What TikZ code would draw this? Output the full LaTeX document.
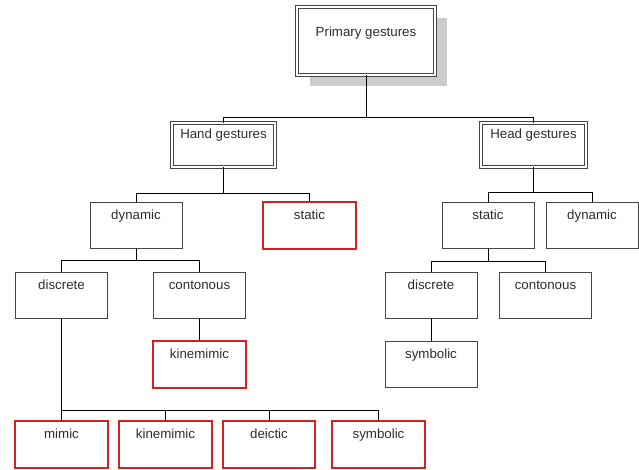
\documentclass[tikz,border=0pt]{standalone}
\usepackage{fontspec}
\setmainfont{Liberation Sans}
\definecolor{boxgray}{RGB}{70,70,70}
\definecolor{txtgray}{RGB}{45,45,45}
\definecolor{boxred}{RGB}{212,32,32}
\definecolor{shadowgray}{RGB}{204,204,204}
\tikzset{
  base/.style={rectangle, inner xsep=0pt, inner ysep=0pt, font=\fontsize{13.3}{16}\selectfont},
  plainbox/.style={base, draw=boxgray, line width=0.9pt, minimum width=92pt, minimum height=46pt, text height=17pt, text depth=29pt},
  redbox/.style={base, minimum width=92pt, minimum height=46pt, text height=17pt, text depth=29pt},
  redframe/.style={draw=boxred, line width=1.7pt},
  dblbox/.style={base, draw=boxgray, line width=0.9pt, double=white, double distance=1.6pt},
  conn/.style={draw=black, line width=0.8pt},
}
\begin{document}
\begin{tikzpicture}[x=1pt,y=-1pt,color=txtgray]
\useasboundingbox (0,0) rectangle (639,470);
% shadow of the root
\fill[shadowgray] (310,18) rectangle (447,86);
% root
\node[dblbox, fill=white, minimum width=138pt, minimum height=68pt, text height=30pt, text depth=38pt] (prim) at (366,41) {Primary gestures};
% level 1
\node[dblbox, minimum width=103pt, minimum height=44pt, text height=16pt, text depth=28pt] (hand) at (223.5,145) {Hand gestures};
\node[dblbox, minimum width=105pt, minimum height=44pt, text height=16pt, text depth=28pt] (head) at (533.5,145) {Head gestures};
% hand subtree
\node[plainbox] (hdyn) at (136,225.5) {dynamic};
\node[redbox] (hstat) at (309.5,225.5) {static};
\node[plainbox] (hdisc) at (61.5,295) {discrete};
\node[plainbox] (hcont) at (199.5,295) {contonous};
\node[redbox] (hkin) at (199.5,364.5) {kinemimic};
\node[redbox] (mimic) at (61.5,444.5) {mimic};
\node[redbox] (kin2) at (165.5,444.5) {kinemimic};
\node[redbox] (deic) at (269,444.5) {deictic};
\node[redbox] (symb) at (378.5,444.5) {symbolic};
% head subtree
\node[plainbox] (rstat) at (488,225.5) {static};
\node[plainbox] (rdyn) at (592,225.5) {dynamic};
\node[plainbox] (rdisc) at (431,295) {discrete};
\node[plainbox] (rcont) at (545.5,295) {contonous};
\node[plainbox] (rsym) at (431,364.5) {symbolic};
% connectors
\draw[conn] (prim.south) -- (prim.south |- 0,117);
\draw[conn] (hand.north) -- (hand.north |- 0,117) -- (head.north |- 0,117) -- (head.north);
\draw[conn] (hand.south) -- (hand.south |- 0,193);
\draw[conn] (hdyn.north) -- (hdyn.north |- 0,193) -- (hstat.north |- 0,193) -- (hstat.north);
\draw[conn] (hdyn.south) -- (hdyn.south |- 0,260);
\draw[conn] (hdisc.north) -- (hdisc.north |- 0,260) -- (hcont.north |- 0,260) -- (hcont.north);
\draw[conn] (hcont.south) -- (hkin.north);
\draw[conn] (hdisc.south) -- (mimic.north);
\draw[conn] (mimic.north |- 0,410) -- (symb.north |- 0,410) -- (symb.north);
\draw[conn] (kin2.north) -- (kin2.north |- 0,410);
\draw[conn] (deic.north) -- (deic.north |- 0,410);
\draw[conn] (head.south) -- (head.south |- 0,192);
\draw[conn] (rstat.north) -- (rstat.north |- 0,192) -- (rdyn.north |- 0,192) -- (rdyn.north);
\draw[conn] (rstat.south) -- (rstat.south |- 0,261);
\draw[conn] (rdisc.north) -- (rdisc.north |- 0,261) -- (rcont.north |- 0,261) -- (rcont.north);
\draw[conn] (rdisc.south) -- (rsym.north);
% red frames
\draw[redframe] (hstat.north west) rectangle (hstat.south east);
\draw[redframe] (hkin.north west) rectangle (hkin.south east);
\draw[redframe] (mimic.north west) rectangle (mimic.south east);
\draw[redframe] (kin2.north west) rectangle (kin2.south east);
\draw[redframe] (deic.north west) rectangle (deic.south east);
\draw[redframe] (symb.north west) rectangle (symb.south east);
\end{tikzpicture}
\end{document}
